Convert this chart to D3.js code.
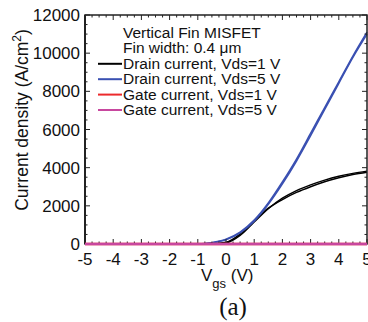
<html>
<body style="margin:0">
<svg class="chart"></svg>
</body>
<style>
  text { font-family: "Liberation Sans", Arial, sans-serif; fill: #111; }
</style>
<script src="https://d3js.org/d3.v7.min.js"></script>
<script>
  var vgs = [-5,-4.5,-4,-3.5,-3,-2.5,-2,-1.5,-1,-0.5,0,0.5,1,1.5,2,2.5,3,3.5,4,4.5,5];
  // forward and reverse sweeps
  var drain1Fwd = [0,0,0,0,0,0,0,0,0,0,50,450,1150,1850,2400,2800,3100,3350,3550,3700,3820];
  var drain1Rev = [0,0,0,0,0,0,0,0,0,10,90,520,1220,1880,2330,2700,3000,3260,3470,3640,3760];
  var drain5Fwd = [0,0,0,0,0,0,0,0,0,70,250,620,1250,2150,3250,4450,5800,7150,8500,9850,11100];
  var drain5Rev = [0,0,0,0,0,0,0,0,0,60,220,580,1200,2080,3150,4350,5680,7050,8420,9780,11000];
  var gate1 = [0,0,0,0,0,0,0,0,0,0,0,0,0,0,0,0,0,0,0,0,0];
  var gate5 = [0,0,0,0,0,0,0,0,0,0,0,0,0,0,0,0,0,0,0,0,0];
  var xTicks = [-5,-4,-3,-2,-1,0,1,2,3,4,5];
  var yTicks = [0,2000,4000,6000,8000,10000,12000];
  var legendTitle = ["Vertical Fin MISFET", "Fin width: 0.4 \u03bcm"];
  var legendNames = ["Drain current, Vds=1 V", "Drain current, Vds=5 V", "Gate current, Vds=1 V", "Gate current, Vds=5 V"];
  var colors = ["#000000", "#3a50b2", "#ec2a2c", "#c8479f"];

  var width = 368, height = 322;
  var padLeft = 85, padRight = 367, padTop = 15, padBottom = 244;

  var x = d3.scaleLinear().domain([-5, 5]).range([padLeft, padRight]);
  var y = d3.scaleLinear().domain([0, 12000]).range([padBottom, padTop]);

  var svg = d3.select(".chart").attr("width", width).attr("height", height);

  var line = d3.line()
    .x(function(d) { return x(d[0]); })
    .y(function(d) { return y(d[1]); })
    .curve(d3.curveMonotoneX);

  function pairs(arr) { return vgs.map(function(v, i) { return [v, arr[i]]; }); }

  var series = [
    {vals: drain1Fwd, c: colors[0], w: 1.4},
    {vals: drain1Rev, c: colors[0], w: 1.4},
    {vals: drain5Fwd, c: colors[1], w: 1.6},
    {vals: drain5Rev, c: colors[1], w: 1.6},
    {vals: gate1, c: colors[2], w: 2.5},
    {vals: gate5, c: colors[3], w: 2.5}
  ];

  svg.selectAll("path.curve")
      .data(series.slice(0, 4))
    .enter().append("path")
      .attr("class", "curve")
      .attr("d", function(d) { return line(pairs(d.vals)); })
      .attr("fill", "none")
      .attr("stroke", function(d) { return d.c; })
      .attr("stroke-width", function(d) { return d.w; });

  // frame with inward ticks
  var minorX = d3.range(-5, 5.001, 0.25);
  var minorY = d3.range(0, 12001, 500);
  var ax = svg.append("g").attr("stroke", "#222");
  ax.selectAll("line.xb").data(minorX).enter().append("line")
    .attr("x1", function(d) { return x(d); }).attr("x2", function(d) { return x(d); })
    .attr("y1", padBottom).attr("y2", function(d) { return padBottom - (xTicks.indexOf(d) >= 0 ? 5 : 2.5); })
    .attr("stroke-width", 1);
  ax.selectAll("line.xt").data(minorX).enter().append("line")
    .attr("x1", function(d) { return x(d); }).attr("x2", function(d) { return x(d); })
    .attr("y1", padTop).attr("y2", function(d) { return padTop + (xTicks.indexOf(d) >= 0 ? 5 : 2.5); })
    .attr("stroke-width", 1);
  ax.selectAll("line.yl").data(minorY).enter().append("line")
    .attr("y1", function(d) { return y(d); }).attr("y2", function(d) { return y(d); })
    .attr("x1", padLeft).attr("x2", function(d) { return padLeft + (yTicks.indexOf(d) >= 0 ? 5 : 2.5); })
    .attr("stroke-width", 1);
  ax.selectAll("line.yr").data(minorY).enter().append("line")
    .attr("y1", function(d) { return y(d); }).attr("y2", function(d) { return y(d); })
    .attr("x1", padRight).attr("x2", function(d) { return padRight - (yTicks.indexOf(d) >= 0 ? 5 : 2.5); })
    .attr("stroke-width", 1);
  ax.append("rect")
    .attr("x", padLeft).attr("y", padTop).attr("width", padRight - padLeft).attr("height", padBottom - padTop)
    .attr("fill", "none").attr("stroke-width", 1.5);
  ax.append("line")
    .attr("x1", padLeft).attr("x2", padLeft).attr("y1", padTop).attr("y2", padBottom)
    .attr("stroke-width", 2);

  // gate lines sit over the bottom spine
  svg.selectAll("path.gate")
      .data(series.slice(4))
    .enter().append("path")
      .attr("class", "gate")
      .attr("d", function(d) { return line(pairs(d.vals)); })
      .attr("fill", "none")
      .attr("stroke", function(d) { return d.c; })
      .attr("stroke-width", function(d) { return d.w; });

  svg.selectAll("text.xt").data(xTicks).enter().append("text")
    .attr("x", function(d) { return x(d); }).attr("y", padBottom + 21)
    .attr("text-anchor", "middle").style("font-size", "17px")
    .text(function(d) { return d; });

  svg.selectAll("text.yt").data(yTicks).enter().append("text")
    .attr("x", padLeft - 5).attr("y", function(d) { return y(d) + 6; })
    .attr("text-anchor", "end").style("font-size", "17px")
    .text(function(d) { return d; });

  var yt = svg.append("text")
    .attr("transform", "translate(28,120) rotate(-90)")
    .attr("text-anchor", "middle").style("font-size", "17.5px");
  yt.append("tspan").text("Current density (A/cm");
  yt.append("tspan").attr("dy", -7).style("font-size", "12px").text("2");
  yt.append("tspan").attr("dy", 7).text(")");

  var xt = svg.append("text").attr("x", 201).attr("y", 281).style("font-size", "17px");
  xt.append("tspan").text("V");
  xt.append("tspan").attr("dy", 7).style("font-size", "13px").text("gs");
  xt.append("tspan").attr("dy", -7).text(" (V)");

  svg.append("text").attr("x", 233).attr("y", 315)
    .attr("text-anchor", "middle")
    .style("font-family", "'Liberation Serif', 'Times New Roman', serif").style("font-size", "25px")
    .text("(a)");

  // legend
  var lx = 123, ly = 38, lh = 15.4;
  svg.selectAll("text.lt").data(legendTitle).enter().append("text")
    .attr("x", lx).attr("y", function(d, i) { return ly + i * lh; })
    .style("font-size", "15.5px").text(function(d) { return d; });
  var lg = svg.selectAll("g.leg").data(legendNames).enter().append("g")
    .attr("transform", function(d, i) { return "translate(0," + (ly + (i + 2) * lh) + ")"; });
  lg.append("line").attr("x1", 98).attr("x2", 122).attr("y1", -5).attr("y2", -5)
    .attr("stroke", function(d, i) { return colors[i]; }).attr("stroke-width", 2);
  lg.append("text").attr("x", lx).style("font-size", "15.5px").text(function(d) { return d; });
</script>
</html>
